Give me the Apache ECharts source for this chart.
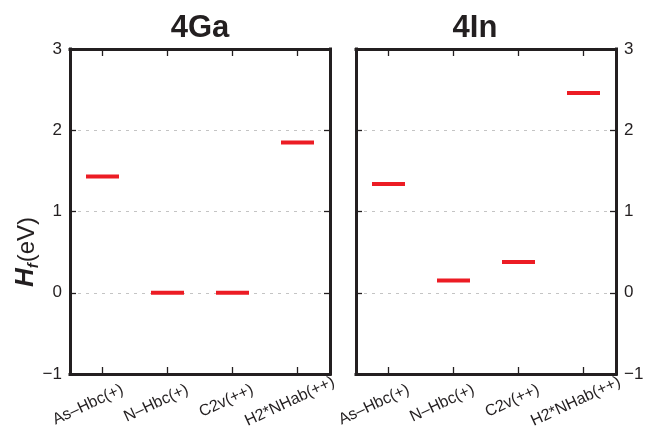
<!DOCTYPE html>
<html><head><meta charset="utf-8">
<script src="https://cdn.jsdelivr.net/npm/echarts@6/dist/echarts.min.js"></script>
<style>html,body{margin:0;padding:0;background:#fff}#c{width:646px;height:436px}</style>
</head><body><div id="c"></div>
<script>
// ---- data ----
const categories = ['As–Hbc(+)', 'N–Hbc(+)', 'C2v(++)', 'H2*NHab(++)'];
const gaValues = [1.43, 0.0, 0.0, 1.85];
const inValues = [1.34, 0.15, 0.38, 2.46];
const yMin = -1, yMax = 3, yStep = 1;
const panelTitles = ['4Ga', '4In'];
const yName = 'H';
const ySub = 'f';
const yUnit = '(eV)';

// ---- style ----
const FF = 'Liberation Sans, Arial, Helvetica, sans-serif';
const INK = '#231f20';
const RED = '#ec1c24';

const chart = echarts.init(document.getElementById('c'), null, {renderer: 'canvas'});

function fmtY(v) { return v < 0 ? '\u2212' + Math.abs(v) : String(v); }

function catData() {
  return categories.map((c, i) => i === categories.length - 1
    ? {value: c, textStyle: {padding: [17, -40, 0, 0]}}
    : {value: c});
}

function frameLine() {
  return {show: true, onZero: false, lineStyle: {color: INK, width: 3, cap: 'square'}};
}
function xTick() {
  return {show: true, inside: true, alignWithLabel: true, interval: 0, length: 7, lineStyle: {color: INK, width: 1.3}};
}
function yTick() {
  return {show: true, inside: true, length: 6, lineStyle: {color: INK, width: 1.3}};
}

function xAxes(g) {
  return [
    {type: 'category', gridIndex: g, position: 'bottom', data: catData(),
     axisLine: frameLine(), axisTick: xTick(), splitLine: {show: false},
     axisLabel: {show: true, interval: 0, rotate: 25, margin: 24, padding: [0, -22, 0, 0],
                 fontSize: 16, fontFamily: FF, color: INK, hideOverlap: false}},
    {type: 'category', gridIndex: g, position: 'top', data: categories.slice(),
     axisLine: frameLine(), axisTick: xTick(), axisLabel: {show: false, interval: 0}, splitLine: {show: false}}
  ];
}

function yAxes(g, labelSide) {
  const mk = (pos) => ({type: 'value', gridIndex: g, position: pos, min: yMin, max: yMax, interval: yStep,
    axisLine: frameLine(), axisTick: yTick(),
    axisLabel: {show: labelSide === pos, margin: 8, fontSize: 17, fontFamily: FF, color: INK, formatter: fmtY},
    splitLine: pos === 'left'
      ? {show: true, showMinLine: false, showMaxLine: false, lineStyle: {color: '#c4c4c4', width: 1, type: [3, 5]}}
      : {show: false}});
  return [mk('left'), mk('right')];
}

const gridBase = {show: false, top: 49, bottom: 62, containLabel: false, outerBoundsMode: 'none'};

const option = {
  animation: false,
  backgroundColor: '#ffffff',
  grid: [
    Object.assign({}, gridBase, {left: 70, right: 316}),
    Object.assign({}, gridBase, {left: 356, right: 30})
  ],
  xAxis: [...xAxes(0), ...xAxes(1)],
  yAxis: [...yAxes(0, 'left'), ...yAxes(1, 'right')],
  series: [
    {type: 'scatter', xAxisIndex: 0, yAxisIndex: 0, data: gaValues, symbol: 'rect', symbolSize: [33, 4],
     itemStyle: {color: RED, opacity: 1}, emphasis: {disabled: true}, silent: true, z: 5},
    {type: 'scatter', xAxisIndex: 2, yAxisIndex: 2, data: inValues, symbol: 'rect', symbolSize: [33, 4],
     itemStyle: {color: RED, opacity: 1}, emphasis: {disabled: true}, silent: true, z: 5}
  ],
  graphic: [
    {type: 'text', x: 200, y: 28, style: {text: panelTitles[0], align: 'center', verticalAlign: 'middle',
      font: 'bold 31px ' + FF, fill: INK}},
    {type: 'text', x: 475, y: 28, style: {text: panelTitles[1], align: 'center', verticalAlign: 'middle',
      font: 'bold 31px ' + FF, fill: INK}},
    {type: 'text', x: 26, y: 252, rotation: Math.PI / 2,
     style: {text: '{h|' + yName + '}{f|' + ySub + '}{e|' + yUnit + '}', align: 'center', verticalAlign: 'middle',
       fill: INK,
       rich: {
         h: {fontSize: 26, fontWeight: 'bold', fontStyle: 'italic', fontFamily: FF, color: INK, lineHeight: 30, verticalAlign: 'bottom', padding: [0, 0, 2, 0]},
         f: {fontSize: 15, fontWeight: 'bold', fontStyle: 'italic', fontFamily: FF, color: INK, lineHeight: 15, verticalAlign: 'bottom', padding: [0, 1, 0, 0]},
         e: {fontSize: 24, fontFamily: FF, color: INK, lineHeight: 30, verticalAlign: 'bottom', padding: [0, 0, 2, 0]}
       }}}
  ]
};
chart.setOption(option);
</script></body></html>
